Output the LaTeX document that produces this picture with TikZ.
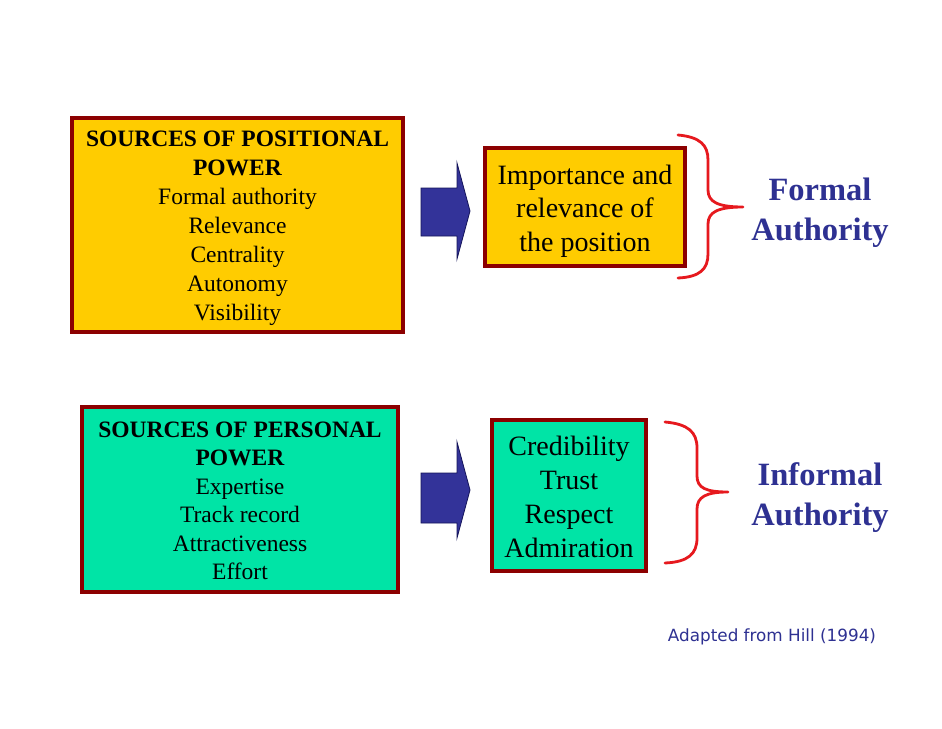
\documentclass[tikz,border=0pt]{standalone}
\usepackage{fontspec}
\setmainfont{Liberation Serif}
\newfontfamily\notefont{DejaVu Sans}
\definecolor{boxyellow}{RGB}{255,204,0}
\definecolor{boxgreen}{RGB}{0,228,166}
\definecolor{boxborder}{RGB}{140,0,0}
\definecolor{arrowblue}{RGB}{51,51,153}
\definecolor{arrowline}{RGB}{20,20,90}
\definecolor{labelblue}{RGB}{46,49,146}
\definecolor{bracered}{RGB}{230,25,30}
\tikzset{
  srcbox/.style={draw=boxborder, line width=3.5pt, inner sep=0pt},
  boxtext/.style={align=center, inner sep=0pt},
  bigarrow/.style={fill=arrowblue, draw=arrowline, line width=0.8pt, line join=miter},
  brace/.style={draw=bracered, line width=2.8pt, line cap=round, line join=round},
  authlabel/.style={text=labelblue, align=center, font=\bfseries\fontsize{32.5}{40}\selectfont}
}
\begin{document}
\begin{tikzpicture}[x=1pt,y=-1pt]
\useasboundingbox (0,0) rectangle (942,728);
\fill[white] (0,0) rectangle (942,728);

% positional power
\node[srcbox, fill=boxyellow, minimum width=331pt, minimum height=214pt] (pos) at (237.5,225) {};
\node[boxtext, font=\fontsize{23.5}{29}\selectfont] (posText) at ([yshift=-3pt]pos.center)
  {\textbf{SOURCES OF POSITIONAL}\\ \textbf{POWER}\\ Formal authority\\ Relevance\\ Centrality\\ Autonomy\\ Visibility};

\draw[bigarrow] (421,188) -- (457,188) -- (457,163) -- (470,211) -- (457,259) -- (457,236) -- (421,236) -- cycle;

\node[srcbox, fill=boxyellow, minimum width=200pt, minimum height=118pt] (imp) at (585,207) {};
\node[boxtext, font=\fontsize{28}{33.5}\selectfont] (impText) at ([yshift=-4pt]imp.center)
  {Importance and\\ relevance of\\ the position};

\draw[brace] (678,135) .. controls (700,137) and (708,145) .. (708,160)
  -- (708,190) .. controls (708,202) and (718,207) .. (743,207)
  .. controls (718,207) and (708,212) .. (708,224)
  -- (708,254) .. controls (708,269) and (700,277) .. (678,278);

\node[authlabel] (formal) at (820,213) {Formal\\ Authority};

% personal power
\node[srcbox, fill=boxgreen, minimum width=316pt, minimum height=185pt] (pers) at (240,499.5) {};
\node[boxtext, font=\fontsize{23.5}{28.5}\selectfont] (persText) at ([yshift=-1.5pt]pers.center)
  {\textbf{SOURCES OF PERSONAL}\\ \textbf{POWER}\\ Expertise\\ Track record\\ Attractiveness\\ Effort};

\draw[bigarrow] (421,473) -- (457,473) -- (457,442) -- (470,490) -- (457,538) -- (457,523) -- (421,523) -- cycle;

\node[srcbox, fill=boxgreen, minimum width=154pt, minimum height=151pt] (cred) at (569,495.5) {};
\node[boxtext, font=\fontsize{28}{34}\selectfont] (credText) at ([yshift=-1.5pt]cred.center)
  {Credibility\\ Trust\\ Respect\\ Admiration};

\draw[brace] (665,422) .. controls (688,424) and (697,432) .. (697,448)
  -- (697,476) .. controls (697,488) and (706,492) .. (728,492)
  .. controls (706,492) and (697,497) .. (697,509)
  -- (697,538) .. controls (697,554) and (688,562) .. (665,563);

\node[authlabel] (informal) at (820,498) {Informal\\ Authority};

\node[text=labelblue, font=\notefont\fontsize{16.8}{18}\selectfont] (src) at (772,637) {Adapted from Hill (1994)};
\end{tikzpicture}
\end{document}
